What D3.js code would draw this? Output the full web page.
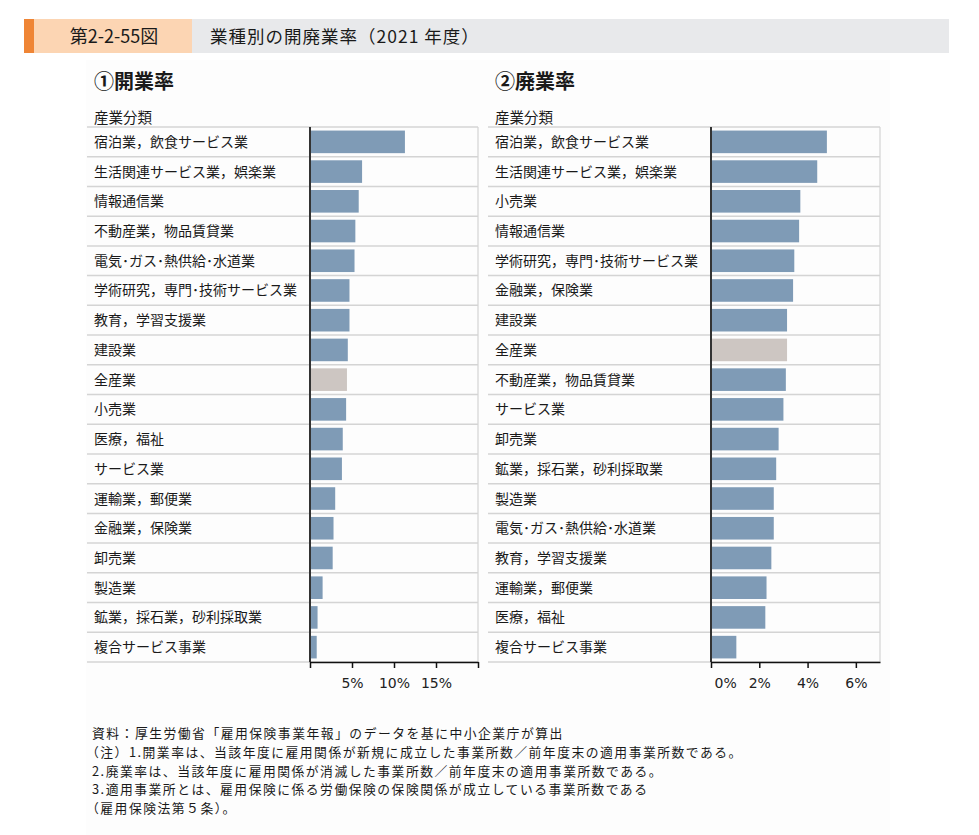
<!DOCTYPE html>
<html>
<head>
<meta charset="utf-8">
<style>
    body { margin: 0; background: #fff; }
    svg { display: block; }
    text { font-family: "Noto Sans CJK JP", "Noto Sans", sans-serif; fill: #1a1a1a; }
    .tick text { font-family: "DejaVu Sans", Verdana, sans-serif; font-size: 14px; fill: #222; }
</style>
</head>
<body>
<svg width="979" height="835"></svg>
<script src="https://d3js.org/d3.v7.min.js"></script>
<script>
    // ①開業率 (%)
    let openCats = ["宿泊業，飲食サービス業", "生活関連サービス業，娯楽業", "情報通信業", "不動産業，物品賃貸業",
        "電気･ガス･熱供給･水道業", "学術研究，専門･技術サービス業", "教育，学習支援業", "建設業", "全産業",
        "小売業", "医療，福祉", "サービス業", "運輸業，郵便業", "金融業，保険業", "卸売業", "製造業",
        "鉱業，採石業，砂利採取業", "複合サービス事業"];
    let openVals = [11.3, 6.2, 5.8, 5.4, 5.3, 4.7, 4.7, 4.5, 4.4, 4.3, 3.9, 3.8, 3.0, 2.8, 2.7, 1.5, 0.9, 0.8];

    // ②廃業率 (%)
    let closeCats = ["宿泊業，飲食サービス業", "生活関連サービス業，娯楽業", "小売業", "情報通信業",
        "学術研究，専門･技術サービス業", "金融業，保険業", "建設業", "全産業", "不動産業，物品賃貸業",
        "サービス業", "卸売業", "鉱業，採石業，砂利採取業", "製造業", "電気･ガス･熱供給･水道業",
        "教育，学習支援業", "運輸業，郵便業", "医療，福祉", "複合サービス事業"];
    let closeVals = [4.8, 4.4, 3.7, 3.65, 3.45, 3.4, 3.15, 3.15, 3.1, 3.0, 2.8, 2.7, 2.6, 2.6, 2.5, 2.3, 2.25, 1.05];

    let openTicks = [0, 5, 10, 15, 20];
    let closeTicks = [0, 2, 4, 6];

    let notes = [
        "資料：厚生労働省「雇用保険事業年報」のデータを基に中小企業庁が算出",
        "（注）1.開業率は、当該年度に雇用関係が新規に成立した事業所数／前年度末の適用事業所数である。",
        "2.廃業率は、当該年度に雇用関係が消滅した事業所数／前年度末の適用事業所数である。",
        "3.適用事業所とは、雇用保険に係る労働保険の保険関係が成立している事業所数である",
        "（雇用保険法第５条）。"
    ];

    let svg = d3.select("svg");
    let barColor = "#7f9bb6", totalColor = "#cdc6c2", gridColor = "#d4d4d4";

    // header band
    svg.append("rect").attr("x", 24).attr("y", 19).attr("width", 925).attr("height", 34).attr("fill", "#e8e9eb");
    svg.append("rect").attr("x", 33).attr("y", 19).attr("width", 159).attr("height", 34).attr("fill", "#fcd5b3");
    svg.append("rect").attr("x", 24).attr("y", 19).attr("width", 10).attr("height", 34).attr("fill", "#ef8535");
    svg.append("text").attr("x", 114).attr("y", 43).attr("text-anchor", "middle")
        .style("font-size", "18px").text("第2-2-55図");
    svg.append("text").attr("x", 210).attr("y", 43)
        .style("font-size", "17.5px").style("letter-spacing", "1px").text("業種別の開廃業率（2021 年度）");

    // faint panel
    svg.append("rect").attr("x", 86).attr("y", 60).attr("width", 804).attr("height", 775).attr("fill", "#fdfdfd");

    function drawPanel(title, cats, vals, ticks, domainMax, left, zero, right, zeroLabel) {
        let g = svg.append("g");
        let top = 127, bottom = 662;

        g.append("text").attr("x", left + 7).attr("y", 89)
            .style("font-size", "20px").style("font-weight", "bold").text(title);
        g.append("text").attr("x", left + 7).attr("y", 123)
            .style("font-size", "14.5px").text("産業分類");

        let y = d3.scaleBand().domain(cats).range([top, bottom]).paddingInner(0.24).paddingOuter(0.12);
        let x = d3.scaleLinear().domain([0, domainMax]).range([zero, right]);

        // row separators
        let step = y.step();
        g.selectAll(".row")
            .data(d3.range(cats.length + 1))
            .join("line")
            .attr("x1", left).attr("x2", right)
            .attr("y1", i => top + i * step).attr("y2", i => top + i * step)
            .attr("stroke", gridColor).attr("stroke-width", 1.5);

        // right border
        g.append("line").attr("x1", right).attr("x2", right).attr("y1", top).attr("y2", bottom)
            .attr("stroke", gridColor).attr("stroke-width", 1.2);

        g.selectAll(".bar")
            .data(cats)
            .join("rect")
            .attr("x", x(0))
            .attr("y", d => y(d))
            .attr("height", y.bandwidth())
            .attr("width", (d, i) => x(vals[i]) - x(0))
            .attr("fill", d => d === "全産業" ? totalColor : barColor);

        g.selectAll(".label")
            .data(cats)
            .join("text")
            .attr("x", left + 7)
            .attr("y", d => y(d) + y.bandwidth() / 2 + 5)
            .style("font-size", "14px")
            .text(d => d);

        // zero line
        g.append("line").attr("x1", x(0)).attr("x2", x(0)).attr("y1", top).attr("y2", bottom)
            .attr("stroke", "#333").attr("stroke-width", 2);

        let axis = g.append("g")
            .attr("transform", `translate(0,${bottom})`)
            .call(d3.axisBottom(x).tickValues(ticks).tickSize(6).tickSizeOuter(0)
                .tickFormat(d => d + "%"));
        axis.select(".domain").attr("stroke", "#111").attr("stroke-width", 1.5);
        axis.selectAll(".tick line").attr("stroke", "#111").attr("stroke-width", 1.5);
        axis.selectAll(".tick text").attr("dy", "1.2em");
        axis.selectAll(".tick").filter(d => d === 0).select("text")
            .style("display", zeroLabel ? null : "none")
            .attr("text-anchor", "start").attr("x", 3);
        axis.selectAll(".tick").filter(d => d === 20).select("text").style("display", "none");
    }

    drawPanel("①開業率", openCats, openVals, openTicks, 20, 87, 310, 478, false);
    drawPanel("②廃業率", closeCats, closeVals, closeTicks, 7, 488, 711, 880, true);

    svg.append("g").selectAll("text")
        .data(notes)
        .join("text")
        .attr("x", (d, i) => i === 1 || i === 4 ? 86 : 92)
        .attr("y", (d, i) => 738 + i * 18.8)
        .style("font-size", "12.8px")
        .style("letter-spacing", "1.5px")
        .text(d => d);
</script>
</body>
</html>
